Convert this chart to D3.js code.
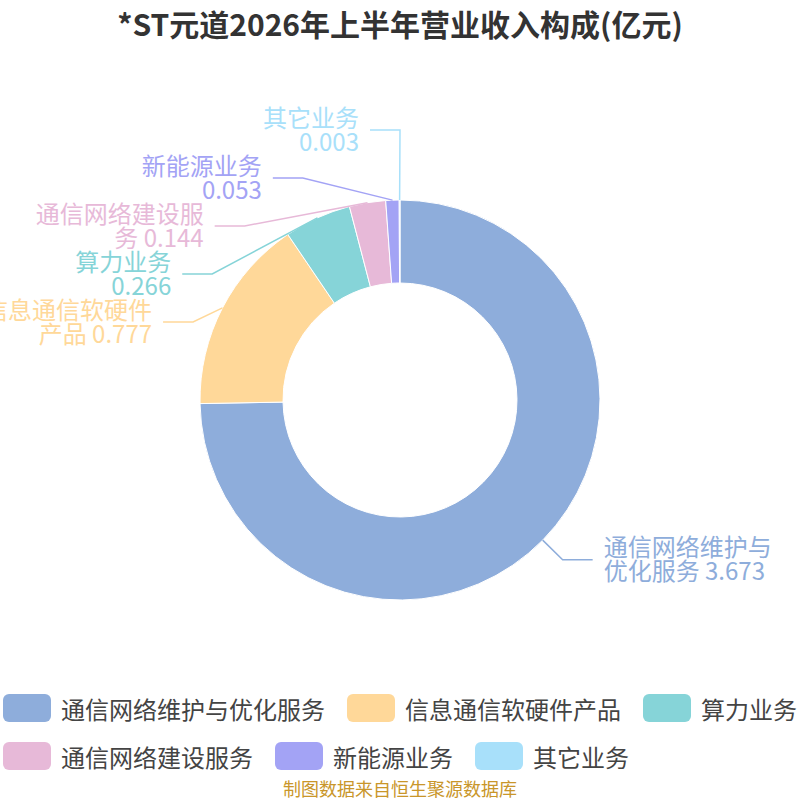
<!DOCTYPE html>
<html>
<head>
<meta charset="utf-8">
<script src="https://cdn.jsdelivr.net/npm/d3@7"></script>
<style>
  body { margin: 0; background: #fff; }
  svg { font-family: "Noto Sans CJK SC", "Noto Sans", sans-serif; }
</style>
</head>
<body>
<div id="chart"></div>
<script>
// Data
const names = ["通信网络维护与优化服务", "信息通信软硬件产品", "算力业务", "通信网络建设服务", "新能源业务", "其它业务"];
const values = [3.673, 0.777, 0.266, 0.144, 0.053, 0.003];
const colors = ["#8eaddb", "#ffd899", "#86d4d8", "#e7b9d8", "#a3a3f5", "#a8e0fa"];

const width = 800;
const height = 800;
const cx = 400, cy = 400;
const outerR = 200, innerR = 117;

const svg = d3.select("#chart")
    .append("svg")
    .attr("width", width)
    .attr("height", height);

// Title
svg.append("text")
    .attr("x", width / 2)
    .attr("y", 23)
    .attr("dominant-baseline", "central")
    .style("text-anchor", "middle")
    .style("font-size", "30px")
    .style("font-weight", "bold")
    .style("fill", "#333")
    .text("*ST元道2026年上半年营业收入构成(亿元)");

const pie = d3.pie().sort(null).value(d => d);
const arcs = pie(values);

const arc = d3.arc()
    .innerRadius(innerR)
    .outerRadius(outerR);

const g = svg.append("g").attr("transform", `translate(${cx},${cy})`);

g.selectAll("path")
    .data(arcs)
    .enter()
    .append("path")
    .attr("d", arc)
    .style("fill", (d, i) => colors[i])
    .style("stroke", "#fff")
    .style("stroke-width", 1);

// Label layout (label line elbow, then pushed apart on each side)
const lineLen = 28, lineLen2 = 30, textGap = 11;
const labelH = 48, labelTopY = 130;
const ellRx = outerR + 18, ellRy = outerR + 48;

const labels = arcs.map((d, i) => {
    const mid = (d.startAngle + d.endAngle) / 2;
    const sx = Math.sin(mid), sy = -Math.cos(mid);
    return {
        i: i,
        dir: sx >= 0 ? 1 : -1,
        start: [cx + outerR * sx, cy + outerR * sy],
        x: cx + (outerR + lineLen) * sx,
        y: cy + (outerR + lineLen) * sy
    };
});

[1, -1].forEach(dir => {
    const side = labels.filter(l => l.dir === dir).sort((a, b) => a.y - b.y);
    if (side.length < 2) return;
    const y0 = side.map(l => l.y);
    // push down
    let last = -Infinity, total = 0;
    side.forEach(l => {
        if (l.y < last + labelH) { total += last + labelH - l.y; l.y = last + labelH; }
        last = l.y;
    });
    // balance up by the mean shift
    const mean = total / side.length;
    side.forEach(l => { l.y -= mean; });
    // keep inside top bound
    if (side[0].y < labelTopY) {
        const s = labelTopY - side[0].y;
        side.forEach(l => { l.y += s; });
    }
    last = -Infinity;
    side.forEach(l => {
        if (l.y < last + labelH) l.y = last + labelH;
        last = l.y;
    });
    // place moved labels on an ellipse
    side.forEach((l, k) => {
        if (Math.abs(l.y - y0[k]) > 0.5) {
            const dy = l.y - cy;
            const dx = ellRx * Math.sqrt(Math.max(0, 1 - dy * dy / (ellRy * ellRy)));
            l.x = cx + dir * dx;
        }
    });
});

// label text lines: wrap name at 7 chars, value follows the last chunk when wrapped
function labelLines(name, value) {
    const maxChars = 7;
    if (name.length <= maxChars) return [name, String(value)];
    const lines = [];
    for (let k = 0; k < name.length; k += maxChars) lines.push(name.slice(k, k + maxChars));
    lines[lines.length - 1] += " " + value;
    return lines;
}

labels.forEach(l => {
    const c = colors[l.i];
    const endX = l.x + l.dir * lineLen2;
    svg.append("polyline")
        .attr("points", [l.start, [l.x, l.y], [endX, l.y]].map(p => p.join(",")).join(" "))
        .style("fill", "none")
        .style("stroke", c)
        .style("stroke-width", 1.5);

    const lines = labelLines(names[l.i], values[l.i]);
    const t = svg.append("text")
        .attr("x", endX + l.dir * textGap)
        .attr("y", l.y)
        .style("text-anchor", l.dir > 0 ? "start" : "end")
        .style("font-size", "24px")
        .style("fill", c);
    lines.forEach((line, k) => {
        t.append("tspan")
            .attr("x", endX + l.dir * textGap)
            .attr("y", l.y - 14 + k * 24)
            .attr("dominant-baseline", "central")
            .text(line);
    });
});

// Legend
const legend = svg.append("g");
const swW = 48, swH = 28, swGap = 10, itemGap = 22, rowH = 48, maxRowW = 795;
const items = names.map((name, i) => {
    const item = legend.append("g");
    item.append("rect")
        .attr("width", swW)
        .attr("height", swH)
        .attr("rx", 6)
        .style("fill", colors[i]);
    const txt = item.append("text")
        .attr("x", swW + swGap)
        .attr("y", swH / 2)
        .attr("dominant-baseline", "central")
        .style("font-size", "24px")
        .style("fill", "#444")
        .text(name);
    return { g: item, w: swW + swGap + txt.node().getComputedTextLength() };
});

const rows = [[]];
let rowW = 0;
items.forEach(it => {
    const add = (rows[rows.length - 1].length ? itemGap : 0) + it.w;
    if (rowW + add > maxRowW && rows[rows.length - 1].length) {
        rows.push([it]);
        rowW = it.w;
    } else {
        rows[rows.length - 1].push(it);
        rowW += add;
    }
});
const rowWidths = rows.map(r => d3.sum(r, it => it.w) + itemGap * (r.length - 1));
const left = (width - d3.max(rowWidths)) / 2;
rows.forEach((r, ri) => {
    let x = left;
    r.forEach(it => {
        it.g.attr("transform", `translate(${x},${694 + ri * rowH})`);
        x += it.w + itemGap;
    });
});

// Source note
svg.append("text")
    .attr("x", width / 2)
    .attr("y", 788)
    .attr("dominant-baseline", "central")
    .style("text-anchor", "middle")
    .style("font-size", "18px")
    .style("fill", "#c9962a")
    .text("制图数据来自恒生聚源数据库");
</script>
</body>
</html>
